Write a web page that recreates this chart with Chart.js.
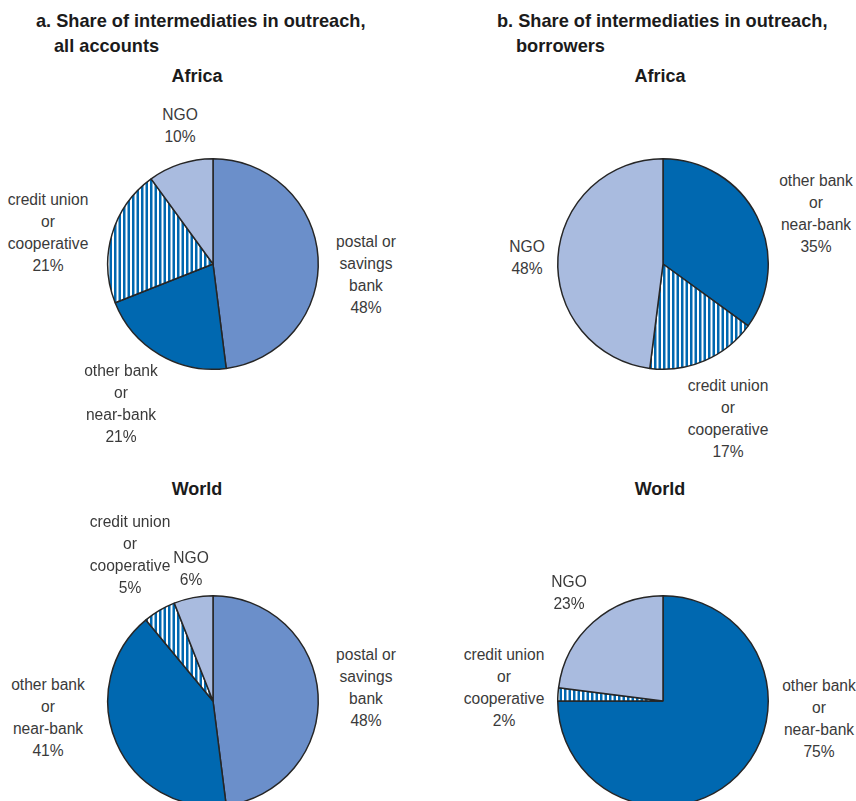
<!DOCTYPE html>
<html>
<head>
<meta charset="utf-8">
<script src="https://cdn.jsdelivr.net/npm/chart.js@4.4.0/dist/chart.umd.min.js"></script>
<style>
  html, body { margin: 0; padding: 0; background: #fff; overflow: hidden; }
  #page { position: relative; width: 856px; height: 801px; overflow: hidden; }
  .pie { position: absolute; width: 216px; height: 216px; }
  .title { position: absolute; font: bold 18.2px 'Liberation Sans Narrow', 'Arial Narrow', sans-serif; color: #1b1b1b; line-height: 25px; white-space: nowrap; }
  .region { position: absolute; font: bold 18px 'Liberation Sans Narrow', sans-serif; color: #1b1b1b; line-height: 24px; transform: translateX(-50%); white-space: nowrap; }
  .lbl { position: absolute; font: 15.6px 'Liberation Sans Narrow', sans-serif; color: #3a3a3a; line-height: 22px; text-align: center; transform: translateX(-50%); white-space: nowrap; }
</style>
</head>
<body>
<div id="page"></div>
<script>
// categories and shares (percent)
const allCategories = ['postal or\nsavings\nbank', 'other bank\nor\nnear-bank', 'credit union\nor\ncooperative', 'NGO'];
const africaAll = [48, 21, 21, 10];
const worldAll = [48, 41, 5, 6];

const borrowerCategories = ['other bank\nor\nnear-bank', 'credit union\nor\ncooperative', 'NGO'];
const africaBorrowers = [35, 17, 48];
const worldBorrowers = [75, 2, 23];

// colours by category
const colorPostal = '#6b8fca';
const colorOther = '#0068b0';
const colorNgo = '#a9bbdf';

// striped fill for credit unions
function stripePattern() {
    const c = document.createElement('canvas');
    c.width = 9; c.height = 9;
    const g = c.getContext('2d');
    g.fillStyle = '#fff';
    g.fillRect(0, 0, 9, 9);
    g.fillStyle = '#0068b0';
    g.fillRect(0, 0, 2.5, 9);
    g.fillRect(4.5, 0, 2.5, 9);
    return g.createPattern(c, 'repeat');
}
const stripes = stripePattern();

function colorFor(name) {
    if (name.startsWith('postal')) return colorPostal;
    if (name.startsWith('other')) return colorOther;
    if (name.startsWith('credit')) return stripes;
    return colorNgo;
}

const page = document.getElementById('page');

function addText(cls, text, x, y) {
    const d = document.createElement('div');
    d.className = cls;
    d.style.left = x + 'px';
    d.style.top = y + 'px';
    d.innerText = text;
    page.appendChild(d);
}

// cx, cy = pie centre; labelPos = [centre x, top y] for each category label
function makePie(cats, values, cx, cy, labelPos) {
    const cv = document.createElement('canvas');
    cv.className = 'pie';
    cv.width = 216; cv.height = 216;
    cv.style.left = (cx - 108) + 'px';
    cv.style.top = (cy - 108) + 'px';
    page.appendChild(cv);
    new Chart(cv.getContext('2d'), {
        type: 'pie',
        data: {
            labels: cats,
            datasets: [{
                data: values,
                backgroundColor: cats.map(colorFor),
                borderColor: '#262626',
                borderWidth: 1.5
            }]
        },
        options: {
            responsive: false,
            animation: false,
            layout: { padding: 2 },
            plugins: { legend: { display: false }, tooltip: { enabled: false } }
        }
    });
    cats.forEach((c, i) => {
        addText('lbl', c + '\n' + values[i] + '%', labelPos[i][0], labelPos[i][1]);
    });
}

// headings
addText('title', 'a. Share of intermediaties in outreach,', 36, 9);
addText('title', 'all accounts', 54, 34);
addText('title', 'b. Share of intermediaties in outreach,', 497, 9);
addText('title', 'borrowers', 516, 34);
addText('region', 'Africa', 197, 64);
addText('region', 'Africa', 660, 64);
addText('region', 'World', 197, 477);
addText('region', 'World', 660, 477);

makePie(allCategories, africaAll, 213, 264, [[366, 231], [121, 360], [48, 189], [180, 104]]);
makePie(borrowerCategories, africaBorrowers, 663, 264, [[816, 170], [728, 375], [527, 236]]);
makePie(allCategories, worldAll, 213, 701, [[366, 644], [48, 674], [130, 511], [191, 547]]);
makePie(borrowerCategories, worldBorrowers, 663, 701, [[819, 675], [504, 644], [569, 571]]);
</script>
</body>
</html>
